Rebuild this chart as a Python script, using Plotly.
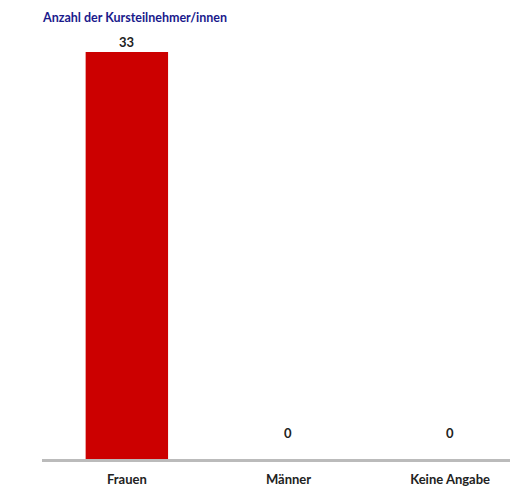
import plotly.graph_objects as go

categories = ["Frauen", "Männer", "Keine Angabe"]
values = [33, 0, 0]
title_text = "Anzahl der Kursteilnehmer/innen"

bar_color = "#CC0000"
text_color = "#222222"
font_family = "Lato, 'Open Sans', sans-serif"

W, H = 510, 479
ML, MR, MT, MB = 34, 0, 32, 28
plot_h = H - MT - MB

fig = go.Figure()
fig.add_trace(go.Bar(
    x=list(range(len(categories))),
    y=values,
    width=0.51,
    marker=dict(color=bar_color, line=dict(width=0)),
    hoverinfo="skip",
))

annotations = []
for i, v in enumerate(values):
    annotations.append(dict(
        x=i, y=v, xref="x", yref="y",
        text=f"<b>{v}</b>", showarrow=False,
        yanchor="bottom", yshift=0 if v > 0 else 16,
        font=dict(family=font_family, size=13, color=text_color),
    ))
annotations.append(dict(
    x=-0.005, y=1 + 23 / plot_h, xref="paper", yref="paper",
    xanchor="left", yanchor="middle",
    text=f"<b>{title_text}</b>", showarrow=False,
    font=dict(family=font_family, size=12.5, color="#1a1a8c"),
))

fig.update_layout(
    width=W, height=H,
    margin=dict(l=ML, r=MR, t=MT, b=MB),
    paper_bgcolor="white", plot_bgcolor="white",
    showlegend=False,
    annotations=annotations,
    font=dict(family=font_family),
    xaxis=dict(
        range=[-0.525, 2.42],
        tickmode="array",
        tickvals=list(range(len(categories))),
        ticktext=[f"<b>{c}</b>" for c in categories],
        tickfont=dict(family=font_family, size=13, color=text_color),
        ticklabelstandoff=6,
        showline=True, linecolor="#bbbbbb", linewidth=3,
        showgrid=False, zeroline=False, ticks="", ticklen=0,
        fixedrange=True,
    ),
    yaxis=dict(
        range=[0, 33.98],
        visible=False, showgrid=False, zeroline=False,
        fixedrange=True,
    ),
)

fig.write_html("out.html", config={"displayModeBar": False})
